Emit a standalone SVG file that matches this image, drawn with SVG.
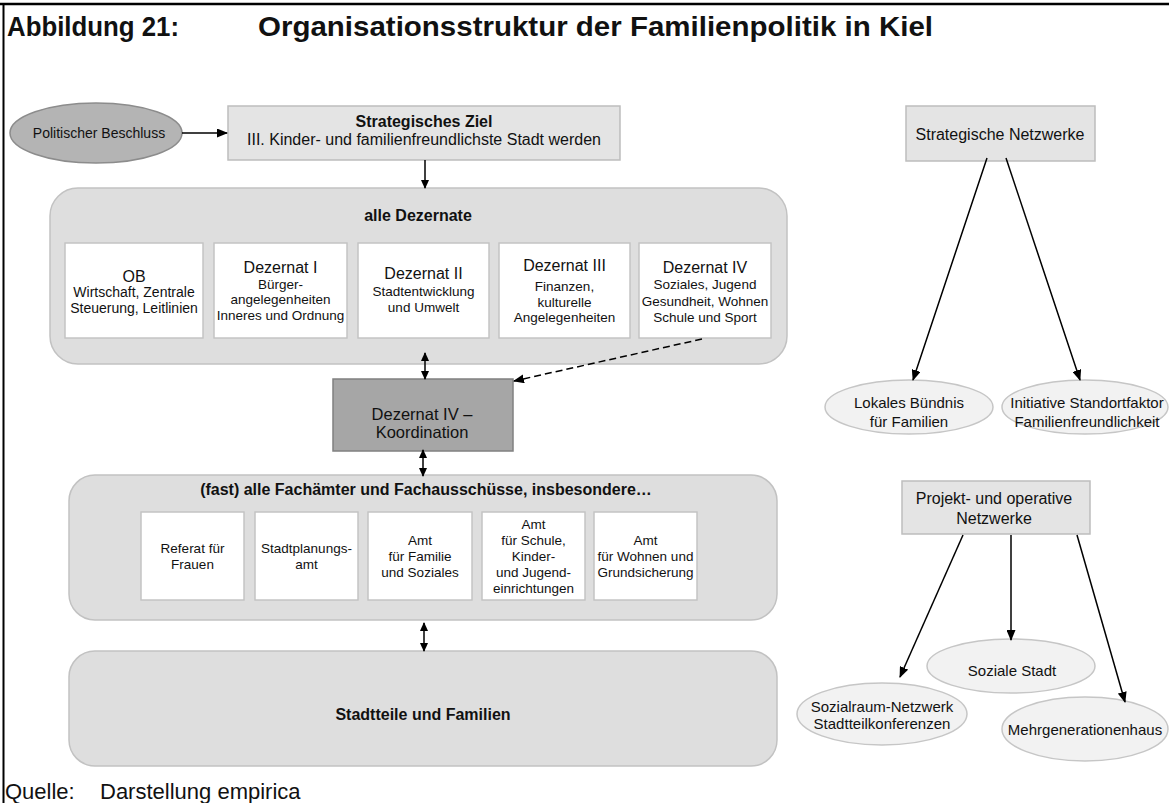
<svg xmlns="http://www.w3.org/2000/svg" width="1169" height="803" viewBox="0 0 1169 803">
<defs>
<marker id="ah" markerUnits="userSpaceOnUse" markerWidth="11" markerHeight="9" refX="10" refY="4.5" orient="auto-start-reverse">
<path d="M0,0 L11,4.5 L0,9 z" fill="#000"/>
</marker>
<marker id="ahs" markerUnits="userSpaceOnUse" markerWidth="9" markerHeight="9" refX="8" refY="4" orient="auto-start-reverse">
<path d="M0,0 L9,4 L0,8 z" fill="#000"/>
</marker>
<style>
text{font-family:"Liberation Sans",Arial,sans-serif;fill:#111;text-anchor:middle}
.t{font-weight:bold;font-size:28px;text-anchor:start}
.h{font-weight:bold;font-size:16px}
.m{font-size:16px}
.s{font-size:13.5px}
.f{font-size:13.5px}
.e{font-size:15px}
.box{fill:#e4e4e4;stroke:#bdbdbd;stroke-width:1.5}
.grp{fill:#dedede;stroke:#c2c2c2;stroke-width:1.5}
.wb{fill:#fff;stroke:#c4c4c4;stroke-width:1.5}
.el{fill:#f2f2f2;stroke:#c6c6c6;stroke-width:1.5}
.c{stroke:#000;stroke-width:1.5;fill:none}
</style>
</defs>
<rect width="1169" height="803" fill="#fff"/>
<g id="frame">
<line x1="0" y1="4" x2="1169" y2="4" stroke="#000" stroke-width="2.5"/>
<line x1="3.5" y1="4" x2="3.5" y2="803" stroke="#000" stroke-width="2"/>
</g>
<g id="title">
<text class="t" x="7" y="36" textLength="172" lengthAdjust="spacingAndGlyphs">Abbildung 21:</text>
<text class="t" x="258" y="36" textLength="675" lengthAdjust="spacingAndGlyphs">Organisationsstruktur der Familienpolitik in Kiel</text>
</g>
<g id="politischer-beschluss">
<ellipse cx="96" cy="133" rx="86" ry="30" fill="#b4b4b4" stroke="#8c8c8c" stroke-width="1.5"/>
<text x="99" y="138" style="font-size:14px">Politischer Beschluss</text>
</g>
<g id="strategisches-ziel">
<rect class="box" x="228" y="106" width="392" height="54"/>
<text class="h" x="424" y="127">Strategisches Ziel</text>
<text class="m" x="424" y="145">III. Kinder- und familienfreundlichste Stadt werden</text>
</g>
<g id="alle-dezernate">
<rect class="grp" x="50" y="188" width="737" height="176" rx="28"/>
<text class="h" x="418" y="221">alle Dezernate</text>
</g>
<g id="ob">
<rect class="wb" x="65" y="243" width="138" height="95"/>
<text class="m" x="134" y="282">OB</text>
<text class="s" x="134" y="297" style="font-size:14px">Wirtschaft, Zentrale</text>
<text class="s" x="134" y="313" style="font-size:14px">Steuerung, Leitlinien</text>
</g>
<g id="dezernat-1">
<rect class="wb" x="214" y="243" width="133" height="95"/>
<text class="m" x="280.5" y="273">Dezernat I</text>
<text class="s" x="280.5" y="289">Bürger-</text>
<text class="s" x="280.5" y="304">angelegenheiten</text>
<text class="s" x="280.5" y="320">Inneres und Ordnung</text>
</g>
<g id="dezernat-2">
<rect class="wb" x="358" y="243" width="131" height="95"/>
<text class="m" x="423.5" y="279">Dezernat II</text>
<text class="s" x="423.5" y="296">Stadtentwicklung</text>
<text class="s" x="423.5" y="312">und Umwelt</text>
</g>
<g id="dezernat-3">
<rect class="wb" x="499" y="243" width="131" height="95"/>
<text class="m" x="564.5" y="271">Dezernat III</text>
<text class="s" x="564.5" y="291">Finanzen,</text>
<text class="s" x="564.5" y="307">kulturelle</text>
<text class="s" x="564.5" y="322">Angelegenheiten</text>
</g>
<g id="dezernat-4">
<rect class="wb" x="639" y="243" width="132" height="95"/>
<text class="m" x="705" y="273">Dezernat IV</text>
<text class="s" x="705" y="289">Soziales, Jugend</text>
<text class="s" x="705" y="306">Gesundheit, Wohnen</text>
<text class="s" x="705" y="322">Schule und Sport</text>
</g>
<g id="koordination">
<rect x="333" y="379" width="180" height="72" fill="#a6a6a6" stroke="#808080" stroke-width="1.5"/>
<text class="m" x="422" y="420" style="font-size:16.5px">Dezernat IV –</text>
<text class="m" x="422" y="438" style="font-size:16.5px">Koordination</text>
</g>
<g id="fachaemter">
<rect class="grp" x="69" y="475" width="708" height="145" rx="26"/>
<text class="h" x="426" y="495">(fast) alle Fachämter und Fachausschüsse, insbesondere…</text>
</g>
<g id="referat-frauen">
<rect class="wb" x="141" y="512" width="103" height="88"/>
<text class="f" x="192.5" y="553">Referat für</text>
<text class="f" x="192.5" y="569">Frauen</text>
</g>
<g id="stadtplanungsamt">
<rect class="wb" x="255" y="512" width="103" height="88"/>
<text class="f" x="306.5" y="553">Stadtplanungs-</text>
<text class="f" x="306.5" y="569">amt</text>
</g>
<g id="amt-familie">
<rect class="wb" x="368" y="512" width="104" height="88"/>
<text class="f" x="420" y="545">Amt</text>
<text class="f" x="420" y="561">für Familie</text>
<text class="f" x="420" y="577">und Soziales</text>
</g>
<g id="amt-schule">
<rect class="wb" x="482" y="512" width="103" height="88"/>
<text class="f" x="533.5" y="529">Amt</text>
<text class="f" x="533.5" y="545">für Schule,</text>
<text class="f" x="533.5" y="561">Kinder-</text>
<text class="f" x="533.5" y="577">und Jugend-</text>
<text class="f" x="533.5" y="593">einrichtungen</text>
</g>
<g id="amt-wohnen">
<rect class="wb" x="594" y="512" width="103" height="88"/>
<text class="f" x="645.5" y="545">Amt</text>
<text class="f" x="645.5" y="561">für Wohnen und</text>
<text class="f" x="645.5" y="577">Grundsicherung</text>
</g>
<g id="stadtteile">
<rect class="grp" x="69" y="651" width="708" height="115" rx="26"/>
<text class="h" x="423" y="720">Stadtteile und Familien</text>
</g>
<g id="strategische-netzwerke">
<rect class="box" x="906" y="106" width="189" height="55"/>
<text class="m" x="1000" y="140">Strategische Netzwerke</text>
</g>
<g id="lokales-buendnis">
<ellipse class="el" cx="909" cy="407" rx="84" ry="27"/>
<text class="e" x="909" y="408">Lokales Bündnis</text>
<text class="e" x="909" y="427">für Familien</text>
</g>
<g id="initiative-standortfaktor">
<ellipse class="el" cx="1085" cy="407" rx="83" ry="27"/>
<text class="e" x="1087" y="408">Initiative Standortfaktor</text>
<text class="e" x="1087" y="427">Familienfreundlichkeit</text>
</g>
<g id="projekt-netzwerke">
<rect class="box" x="902" y="481" width="188" height="53"/>
<text class="m" x="994" y="504">Projekt- und operative</text>
<text class="m" x="994" y="524">Netzwerke</text>
</g>
<g id="sozialraum">
<ellipse class="el" cx="882" cy="714" rx="85" ry="31"/>
<text class="e" x="882" y="712">Sozialraum-Netzwerk</text>
<text class="e" x="882" y="729">Stadtteilkonferenzen</text>
</g>
<g id="mehrgenerationenhaus">
<ellipse class="el" cx="1085" cy="729" rx="83" ry="32"/>
<text class="e" x="1085" y="735">Mehrgenerationenhaus</text>
</g>
<g id="soziale-stadt">
<ellipse class="el" cx="1011" cy="666" rx="84" ry="27"/>
<text class="e" x="1012" y="676">Soziale Stadt</text>
</g>
<g id="connectors">
<line class="c" x1="182" y1="133" x2="227" y2="133" marker-end="url(#ah)"/>
<line class="c" x1="425" y1="160" x2="425" y2="188" marker-end="url(#ahs)"/>
<line class="c" x1="425" y1="353" x2="425" y2="379" marker-start="url(#ahs)" marker-end="url(#ahs)"/>
<line class="c" x1="423" y1="450" x2="423" y2="476" marker-start="url(#ahs)" marker-end="url(#ahs)"/>
<line class="c" x1="424" y1="623" x2="424" y2="651" marker-start="url(#ahs)" marker-end="url(#ahs)"/>
<line class="c" x1="702" y1="339" x2="514" y2="381" stroke-dasharray="7,4" marker-end="url(#ah)"/>
<line class="c" x1="987" y1="158" x2="913" y2="380" marker-end="url(#ah)"/>
<line class="c" x1="1006" y1="158" x2="1080" y2="380" marker-end="url(#ah)"/>
<line class="c" x1="963" y1="535" x2="900" y2="677" marker-end="url(#ah)"/>
<line class="c" x1="1011" y1="535" x2="1011" y2="640" marker-end="url(#ah)"/>
<line class="c" x1="1077" y1="535" x2="1125" y2="702" marker-end="url(#ah)"/>
</g>
<g id="source">
<text x="5" y="799" style="font-size:22px;text-anchor:start">Quelle:<tspan x="100">Darstellung empirica</tspan></text>
</g>
</svg>
